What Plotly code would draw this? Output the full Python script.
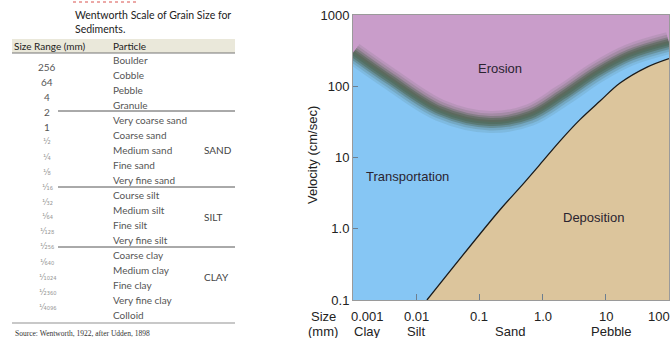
import math
import plotly.graph_objects as go

W, H = 671, 338

# ---------------- data: Wentworth table ----------------
title_lines = ["Wentworth Scale of Grain Size for", "Sediments."]
header = ["Size Range (mm)", "Particle"]
particles = ["Boulder", "Cobble", "Pebble", "Granule", "Very coarse sand", "Coarse sand",
             "Medium sand", "Fine sand", "Very fine sand", "Course silt", "Medium silt",
             "Fine silt", "Very fine silt", "Coarse clay", "Medium clay", "Fine clay",
             "Very fine clay", "Colloid"]
size_whole = ["256", "64", "4", "2", "1"]
size_frac_den = ["2", "4", "8", "16", "32", "64", "128", "256", "640", "1024", "2360", "4096"]
groups = ["SAND", "SILT", "CLAY"]
source_text = "Source: Wentworth, 1922, after Udden, 1898"

# ---------------- data: Hjulstrom diagram ----------------
erosion_d = [0.001, 0.00385, 0.0238, 0.147, 0.63, 2.1, 7.3, 24, 100]
erosion_v = [293, 127, 46, 31.5, 39.5, 75, 158, 275, 405]
deposition_d = [0.0148, 0.212, 0.44, 0.91, 1.88, 3.9, 8.1, 16.8, 45, 100]
deposition_v = [0.1, 1.85, 3.8, 8.0, 17, 34, 62, 111, 186, 245]
x_ticks = [0.001, 0.01, 0.1, 1, 10, 100]
x_tick_text = ["0.001", "0.01", "0.1", "1.0", "10", "100"]
y_ticks = [0.1, 1, 10, 100, 1000]
y_tick_text = ["0.1", "1.0", "10", "100", "1000"]
size_classes = ["Clay", "Silt", "Sand", "Pebble"]
size_class_d = [0.001, 0.01, 0.3, 12]
zone_labels = ["Erosion", "Transportation", "Deposition"]
zone_d = [0.21, 0.0074, 6.5]
zone_v = [180, 5.5, 1.42]

PURPLE = "#c99dca"
BLUE = "#86c6f4"
TAN = "#dcc59c"

fig = go.Figure()

fig.add_trace(go.Scatter(x=[erosion_d[0], erosion_d[-1]], y=[0.1, 0.1], mode="lines",
                         line=dict(width=0, color=BLUE), hoverinfo="skip", showlegend=False))
fig.add_trace(go.Scatter(x=erosion_d, y=erosion_v, mode="lines", fill="tonexty", fillcolor=BLUE,
                         line=dict(width=0, color=BLUE, shape="spline"), hoverinfo="skip", showlegend=False))
fig.add_trace(go.Scatter(x=[deposition_d[0], deposition_d[-1]], y=[0.1, 0.1], mode="lines",
                         line=dict(width=0, color=TAN), hoverinfo="skip", showlegend=False))
fig.add_trace(go.Scatter(x=deposition_d, y=deposition_v, mode="lines", fill="tonexty", fillcolor=TAN,
                         line=dict(width=1.3, color="#1a1a1a", shape="spline"), hoverinfo="skip", showlegend=False))
for w, a in [(22, 0.12), (17, 0.2), (12, 0.35), (8, 0.5), (4, 0.5)]:
    fig.add_trace(go.Scatter(x=erosion_d, y=erosion_v, mode="lines",
                             line=dict(width=w, color=f"rgba(78,100,80,{a})", shape="spline"),
                             hoverinfo="skip", showlegend=False))

PL, PR, PT, PB = 353, 669, 15, 300

fig.update_layout(
    width=W, height=H, margin=dict(l=0, r=0, t=0, b=0, pad=0, autoexpand=False),
    paper_bgcolor="white", plot_bgcolor=PURPLE,
    font=dict(family="Liberation Sans, Arial", size=13, color="#222"),
    xaxis=dict(type="log", range=[-3, 2], domain=[PL / W, PR / W], automargin=False,
               tickvals=x_ticks[1:-1], showticklabels=False, ticks="inside", ticklen=6,
               tickcolor="#6d7f90", showgrid=False, zeroline=False,
               showline=True, linecolor="#9a9a9a", linewidth=1, mirror=True),
    yaxis=dict(type="log", range=[-1, 3], domain=[1 - PB / H, 1 - PT / H], automargin=False,
               tickvals=y_ticks, ticktext=y_tick_text, ticks="inside", ticklen=5,
               tickcolor="#6d7f90", showgrid=False, zeroline=False,
               tickfont=dict(size=13, color="#222"),
               showline=True, linecolor="#9a9a9a", linewidth=1, mirror=True),
)

ann = []
def A(x, y, text, xref="paper", yref="paper", xanchor="center", **kw):
    d = dict(x=x, y=y, xref=xref, yref=yref, text=text, showarrow=False,
             xanchor=xanchor, yanchor="middle")
    d.update(kw)
    ann.append(d)

for t, d, v in zip(zone_labels, zone_d, zone_v):
    A(math.log10(d), math.log10(v), t, xref="x", yref="y", font=dict(size=13, color="#2a2430"))
for d, t in zip(x_ticks, x_tick_text):
    shift = 14 if d == x_ticks[0] else (-10 if d == x_ticks[-1] else 0)
    A(math.log10(d), 1 - 316 / H, t, xref="x", xshift=shift, font=dict(size=13, color="#222"))
for d, t in zip(size_class_d, size_classes):
    shift = 14 if d == size_class_d[0] else 0
    A(math.log10(d), 1 - 331 / H, t, xref="x", xshift=shift, font=dict(size=13, color="#222"))
A(323 / W, 1 - 316 / H, "Size", font=dict(size=13))
A(323 / W, 1 - 331 / H, "(mm)", font=dict(size=13))
A(312 / W, 1 - 155 / H, "Velocity (cm/sec)", textangle=-90, font=dict(size=13))

# ---------------- table ----------------
TF = "Lato, Open Sans, sans-serif"
SUB = str.maketrans("0123456789", "₀₁₂₃₄₅₆₇₈₉")
def P(x, y):
    return x / W, 1 - y / H

for i, t in enumerate(title_lines):
    x, y = P(73, 15 + 14 * i)
    A(x, y, t, xanchor="left", font=dict(family=TF, size=10.5, color="#222"))
x, y = P(12, 46)
A(x, y, header[0], xanchor="left", font=dict(family=TF, size=10, color="#222"))
x, y = P(111, 46)
A(x, y, header[1], xanchor="left", font=dict(family=TF, size=10, color="#222"))
for i, t in enumerate(particles):
    x, y = P(111, 60 + 15 * i)
    A(x, y, t, xanchor="left", font=dict(family=TF, size=10, color="#555"))
sizes = size_whole + ["¹⁄" + d.translate(SUB) for d in size_frac_den]
for i, t in enumerate(sizes):
    x, y = P(47, 67 + 15 * i)
    frac = i >= len(size_whole)
    A(x, y, t, font=dict(family=TF if not frac else "DejaVu Sans",
                         size=10 if not frac else 8,
                         color="#555" if not frac else "#999"))
for t, gy in zip(groups, [150, 217, 277]):
    x, y = P(202, gy)
    A(x, y, t, xanchor="left", font=dict(family=TF, size=10, color="#444"))
x, y = P(13, 333)
A(x, y, source_text, xanchor="left", font=dict(family="Liberation Serif, serif", size=7.5, color="#333"))

shapes = []
def rect(x0, y0, x1, y1, **kw):
    a0, b0 = P(x0, y0)
    a1, b1 = P(x1, y1)
    shapes.append(dict(type="rect", xref="paper", yref="paper", x0=a0, y0=b1, x1=a1, y1=b0, **kw))
def hline(x0, x1, yy, color, width, dash="solid"):
    a0, b = P(x0, yy)
    a1, _ = P(x1, yy)
    shapes.append(dict(type="line", xref="paper", yref="paper", x0=a0, x1=a1, y0=b, y1=b,
                       line=dict(color=color, width=width, dash=dash)))

rect(12, 39, 235, 53, fillcolor="#eae8da", line=dict(width=0))
hline(12, 235, 53, "#777", 1)
hline(58, 235, 111, "#555", 1)
hline(58, 235, 187, "#555", 1)
hline(58, 235, 247, "#555", 1)
hline(12, 235, 323, "#c8c8c8", 2)
hline(73, 137, 2, "#d9534f", 1, "dot")

fig.update_layout(annotations=ann, shapes=shapes)
fig.write_html("out.html", config={"displayModeBar": False},
               post_script="document.body.style.margin='0';")
